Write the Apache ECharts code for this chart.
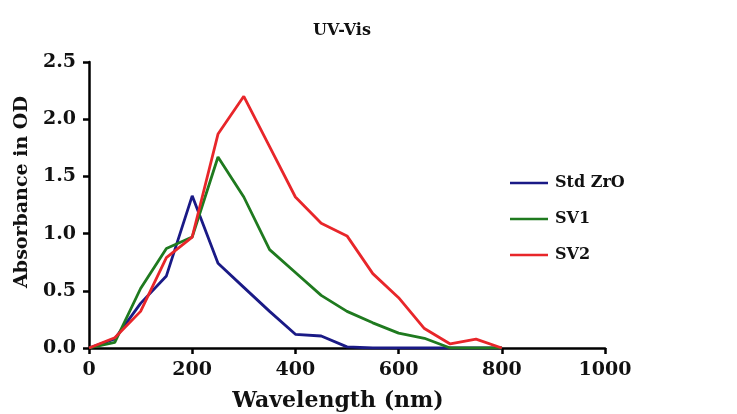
<!DOCTYPE html>
<html>
<head>
<meta charset="utf-8">
<script src="https://cdn.jsdelivr.net/npm/echarts@6/dist/echarts.min.js"></script>
<style>
  html, body { margin: 0; padding: 0; background: #fff; }
  #chart { width: 737px; height: 414px; }
</style>
</head>
<body>
<div id="chart"></div>
<script>
// wavelength steps (nm)
const wavelengths = [0, 50, 100, 150, 200, 250, 300, 350, 400, 450, 500, 550, 600, 650, 700, 750, 800]
// absorbance values
const stdZrO = [0, 0.08, 0.39, 0.63, 1.33, 0.74, 0.53, 0.32, 0.12, 0.105, 0.01, 0, 0, 0, 0, 0, 0]
const sv1 = [0, 0.05, 0.52, 0.87, 0.97, 1.67, 1.32, 0.86, 0.66, 0.46, 0.32, 0.22, 0.13, 0.085, 0, 0, 0]
const sv2 = [0, 0.09, 0.32, 0.79, 0.97, 1.87, 2.2, 1.76, 1.32, 1.09, 0.98, 0.65, 0.44, 0.17, 0.035, 0.077, 0]
const seriesNames = ['Std ZrO', 'SV1', 'SV2']
const seriesColors = ['#1a1a86', '#1f7a1f', '#e8262a']

const font = 'DejaVu Serif'
const pairs = (ys) => wavelengths.map((x, i) => [x, ys[i]])

const chart = echarts.init(document.getElementById('chart'))
chart.setOption({
  backgroundColor: '#fff',
  animation: false,
  title: {
    text: 'UV-Vis',
    left: 337,
    top: 18,
    textAlign: 'center',
    textStyle: { fontFamily: font, fontWeight: 'bold', fontSize: 16, color: '#111' }
  },
  legend: {
    orient: 'vertical',
    left: 505,
    top: 170,
    itemGap: 20,
    itemWidth: 38,
    itemHeight: 12,
    icon: 'path://M0,5 L40,5 L40,7.5 L0,7.5 Z',
    textStyle: { fontFamily: font, fontWeight: 'bold', fontSize: 16, color: '#111', padding: [0, 0, 0, 2] },
    data: seriesNames
  },
  grid: { left: 89, right: 132, top: 62, bottom: 66, containLabel: false, outerBoundsMode: 'none' },
  xAxis: {
    type: 'value',
    min: 0,
    max: 1000,
    interval: 200,
    name: 'Wavelength (nm)',
    nameLocation: 'middle',
    nameGap: 42,
    nameTextStyle: { fontFamily: font, fontWeight: 'bold', fontSize: 22, color: '#111', padding: [0, 18, 0, 0] },
    axisLine: { lineStyle: { color: '#000', width: 2.5 } },
    axisTick: { show: true, length: 6, lineStyle: { color: '#000', width: 2.5 } },
    axisLabel: {
      fontFamily: font, fontWeight: 'bold', fontSize: 19, color: '#111', margin: 13,
      formatter: (v) => String(v)
    },
    splitLine: { show: false }
  },
  yAxis: {
    type: 'value',
    min: 0,
    max: 2.5,
    interval: 0.5,
    name: 'Absorbance in OD',
    nameLocation: 'middle',
    nameGap: 55,
    nameTextStyle: { fontFamily: font, fontWeight: 'bold', fontSize: 19, color: '#111', padding: [0, 0, 0, 26] },
    axisLine: { show: true, lineStyle: { color: '#000', width: 2.5 } },
    axisTick: { show: true, length: 6, lineStyle: { color: '#000', width: 2.5 } },
    axisLabel: {
      fontFamily: font, fontWeight: 'bold', fontSize: 19, color: '#111', margin: 13,
      formatter: (v) => v.toFixed(1)
    },
    splitLine: { show: false }
  },
  series: [stdZrO, sv1, sv2].map((ys, i) => ({
    name: seriesNames[i],
    type: 'line',
    data: pairs(ys),
    symbol: 'none',
    color: seriesColors[i],
    lineStyle: { width: 2.8, color: seriesColors[i] }
  }))
})
</script>
</body>
</html>
